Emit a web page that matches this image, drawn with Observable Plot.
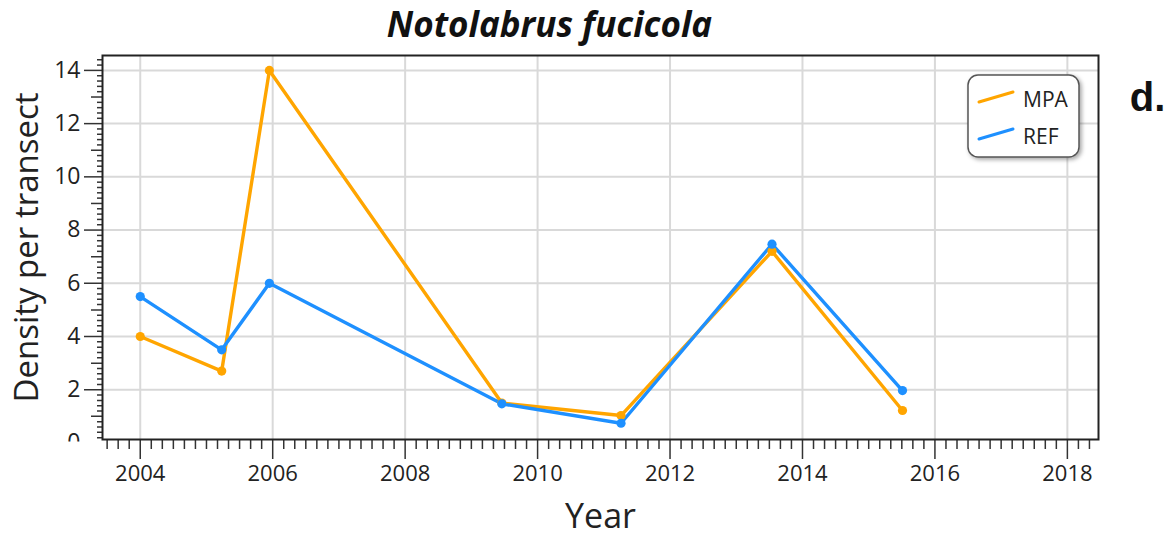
<!DOCTYPE html>
<html>
<head>
<meta charset="utf-8">
<script src="https://cdn.jsdelivr.net/npm/d3@7"></script>
<script src="https://cdn.jsdelivr.net/npm/@observablehq/plot@0.6"></script>
<style>
  html, body { margin: 0; padding: 0; background: #fff; }
  svg { display: block; }
</style>
</head>
<body>
<div id="chart"></div>
<script>
// ---- data ----
const years = [2004, 2005.23, 2005.95, 2009.46, 2011.26, 2013.54, 2015.51];
const mpaValues = [4.0, 2.7, 14.0, 1.5, 1.03, 7.2, 1.22];
const refValues = [5.5, 3.5, 6.0, 1.47, 0.74, 7.47, 1.97];
const seriesNames = ["MPA", "REF"];
const seriesColors = ["#FFA500", "#1E90FF"];
const xTickLabels = [2004, 2006, 2008, 2010, 2012, 2014, 2016, 2018];
const yTickLabels = [0, 2, 4, 6, 8, 10, 12, 14];
const titleText = "Notolabrus fucicola";
const panelLetter = "d.";
const xLabel = "Year";
const yLabel = "Density per transect";

const data = [
  ...years.map((y, i) => ({year: y, value: mpaValues[i], series: "MPA"})),
  ...years.map((y, i) => ({year: y, value: refValues[i], series: "REF"}))
];

const notEven = v => Math.abs(v - Math.round(v / 2) * 2) > 1e-6;
const notInt = v => Math.abs(v - Math.round(v)) > 1e-6;
const xMinor = d3.range(2003 + 3/6, 2018.5, 1/6).filter(notEven);
const yMinor = d3.range(0.2, 14.5, 0.2).filter(notInt);
const yMid = [1, 3, 5, 7, 9, 11, 13];

const font = "'Open Sans', 'Noto Sans', sans-serif";

const chart = Plot.plot({
  width: 1176,
  height: 537,
  marginLeft: 102,
  marginRight: 78,
  marginTop: 55,
  marginBottom: 98,
  style: {fontFamily: font, color: "#222", background: "#fff"},
  x: {domain: [2003.43, 2018.47], label: null},
  y: {domain: [0.13, 14.56], label: null},
  color: {domain: seriesNames, range: seriesColors},
  marks: [
    Plot.gridX(xTickLabels, {stroke: "#d9d9d9", strokeOpacity: 1, strokeWidth: 2}),
    Plot.gridY(yTickLabels.filter(d => d > 0), {stroke: "#d9d9d9", strokeOpacity: 1, strokeWidth: 2}),
    Plot.line(data, {x: "year", y: "value", stroke: "series", strokeWidth: 3.4, z: "series"}),
    Plot.dot(data, {x: "year", y: "value", fill: "series", r: 4.6}),
    Plot.axisX(xMinor, {tickSize: 10, tickFormat: () => "", stroke: "#333", strokeWidth: 1.5, label: null}),
    Plot.axisX(xTickLabels, {tickSize: 20, tickPadding: 6, tickFormat: d => String(d), fontSize: 22, fill: "#222", stroke: "#333", strokeWidth: 1.5, label: null}),
    Plot.axisY(yMinor, {tickSize: 5, tickFormat: () => "", stroke: "#333", strokeWidth: 1.5, label: null}),
    Plot.axisY(yMid, {tickSize: 11, tickFormat: () => "", stroke: "#333", strokeWidth: 1.5, label: null}),
    Plot.axisY(yTickLabels, {tickSize: 18, tickPadding: 4, tickFormat: d => String(d), fontSize: 23, fill: "#222", stroke: "#333", strokeWidth: 1.5, label: null}),
    Plot.frame({stroke: "#222", strokeWidth: 2}),
    Plot.text([yLabel], {frameAnchor: "left", textAnchor: "middle", lineAnchor: "middle", rotate: -90, dx: -75, fontSize: 33, fill: "#222"}),
    Plot.text([xLabel], {frameAnchor: "bottom", textAnchor: "middle", lineAnchor: "middle", dy: 78, fontSize: 34, fill: "#222"}),
    Plot.text([titleText], {frameAnchor: "top", textAnchor: "middle", lineAnchor: "middle", dx: -51, dy: -30, fontSize: 35, fontWeight: "bold", fontStyle: "italic", fill: "#111"}),
    Plot.text([panelLetter], {frameAnchor: "top-right", textAnchor: "middle", lineAnchor: "middle", dx: 49, dy: 43, fontSize: 40, fontWeight: "bold", fill: "#111", fontFamily: "'Liberation Sans', Arial, sans-serif"})
  ]
});

document.getElementById("chart").appendChild(chart);

const svg = d3.select(chart);

// clip the partially hidden "0" y tick label / tick
const defs = svg.insert("defs", ":first-child");
defs.append("clipPath").attr("id", "yclip")
  .append("rect").attr("x", -2000).attr("y", -2000).attr("width", 4000).attr("height", 2000 + 441);
svg.selectAll('g[aria-label="y-axis tick label"], g[aria-label="y-axis tick"]').attr("clip-path", "url(#yclip)");

// legend
const filt = defs.append("filter").attr("id", "shadow").attr("x", "-20%").attr("y", "-20%").attr("width", "150%").attr("height", "150%");
filt.append("feDropShadow").attr("dx", 2).attr("dy", 2).attr("stdDeviation", 2).attr("flood-color", "#000").attr("flood-opacity", 0.35);

const lg = svg.append("g").attr("class", "legend");
lg.append("rect").attr("x", 968).attr("y", 75).attr("width", 111).attr("height", 82)
  .attr("rx", 10).attr("fill", "#fff").attr("stroke", "#555").attr("stroke-width", 1.5)
  .attr("filter", "url(#shadow)");
seriesNames.forEach((name, i) => {
  const cy = 97 + i * 37;
  lg.append("line").attr("x1", 979).attr("y1", cy + 5).attr("x2", 1013).attr("y2", cy - 5)
    .attr("stroke", seriesColors[i]).attr("stroke-width", 3).attr("stroke-linecap", "round");
  lg.append("text").attr("x", 1023).attr("y", cy + 3).attr("dy", "0.35em")
    .attr("text-anchor", "start")
    .attr("font-family", font).attr("font-size", 21).attr("fill", "#222").text(name);
});
</script>
</body>
</html>
